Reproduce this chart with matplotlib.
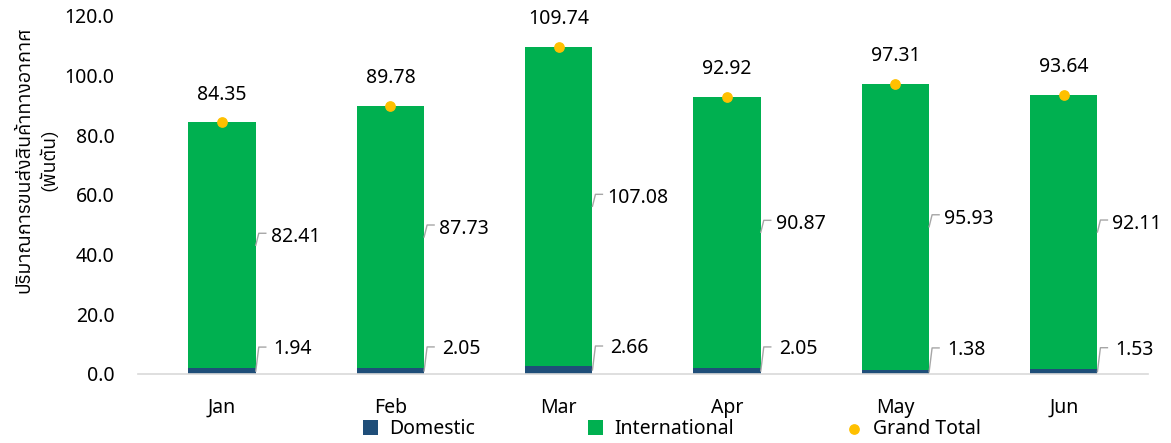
import matplotlib
matplotlib.use("Agg")
import matplotlib.pyplot as plt
from matplotlib import font_manager
from matplotlib.ft2font import FT2Font
import numpy as np

months = ["Jan", "Feb", "Mar", "Apr", "May", "Jun"]
domestic = [1.94, 2.05, 2.66, 2.05, 1.38, 1.53]
international = [82.41, 87.73, 107.08, 90.87, 95.93, 92.11]
grand_total = [84.35, 89.78, 109.74, 92.92, 97.31, 93.64]
yticks = [0, 20, 40, 60, 80, 100, 120]
ylabel = "ปริมาณการขนส่งสินค้าทางอากาศ\n(พันตัน)"

# find an installed family with Thai glyphs
thai_fams = []
for f in font_manager.fontManager.ttflist:
    try:
        cm = FT2Font(f.fname).get_charmap()
        if 0x0E01 in cm and 0x0E49 in cm:
            thai_fams.append(f.name)
    except Exception:
        pass
thai_fams = sorted(set(thai_fams))

plt.rcParams['font.family'] = ['Noto Sans', 'DejaVu Sans']

c_dom = "#1F4E79"
c_int = "#00B050"
c_tot = "#FFC000"
fs = 14

fig = plt.figure(figsize=(11.71, 4.43), dpi=100)
ax = fig.add_axes([0.1178, 0.1558, 0.8625, 0.8081])
x = np.arange(len(months))
w = 0.4
b1 = ax.bar(x, domestic, w, color=c_dom, label="Domestic", zorder=2)
b2 = ax.bar(x, international, w, bottom=domestic, color=c_int, label="International", zorder=2)
sc = ax.scatter(x, grand_total, s=45, color=c_tot, label="Grand Total", zorder=3)

ax.set_xlim(-0.5, len(months) - 0.5)
ax.set_ylim(0, 120)
ax.set_yticks(yticks)
ax.set_yticklabels([f"{v:.1f}" for v in yticks], fontsize=fs)
ax.set_xticks(x)
ax.set_xticklabels(months, fontsize=fs)
ax.tick_params(axis='both', length=0)
ax.tick_params(axis='x', pad=17)
ax.tick_params(axis='y', pad=17)
for s in ["top", "right", "left"]:
    ax.spines[s].set_visible(False)
ax.spines["bottom"].set_color("#D9D9D9")
ax.spines["bottom"].set_linewidth(1.2)

ax.set_ylabel(ylabel, fontsize=fs, family=thai_fams[:1] + ['Noto Sans', 'DejaVu Sans'],
              linespacing=1.45)
ax.yaxis.set_label_coords(-0.079, 0.598)

for xi, t in zip(x, grand_total):
    ax.annotate(f"{t:.2f}", (xi, t), xytext=(0, 20), textcoords="offset points",
                ha="center", va="center", fontsize=fs)

px2pt = 72.0 / fig.dpi
inv = ax.transData.inverted()
for xi, d, i in zip(x, domestic, international):
    # (value position, value, rise of leader px, text center rise px, text x offset px)
    for yv, val, rise, trise, tx in [(d / 2, d, 24, 22, 18), (d + i / 2, i, 12, 8, 15)]:
        xr = xi + w / 2
        base = ax.transData.transform((xr, yv))
        px = [base[0], base[0] + 3, base[0] + 10]
        py = [base[1], base[1] + rise, base[1] + rise]
        dpts = inv.transform(np.column_stack([px, py]))
        ax.plot(dpts[:, 0], dpts[:, 1], color="#A6A6A6", lw=1, zorder=4, clip_on=False)
        ax.annotate(f"{val:.2f}", xy=(xr, yv), xytext=(tx * px2pt, trise * px2pt),
                    textcoords="offset points", ha="left", va="center", fontsize=fs)

leg = fig.legend(handles=[b1, b2, sc], labels=["Domestic", "International", "Grand Total"],
                 loc="center", bbox_to_anchor=(0.574, 0.031), ncol=3, frameon=False,
                 fontsize=fs, handlelength=0.75, handleheight=0.75, handletextpad=0.6,
                 columnspacing=5.8, borderpad=0)
plt.savefig("out.png", dpi=100)
